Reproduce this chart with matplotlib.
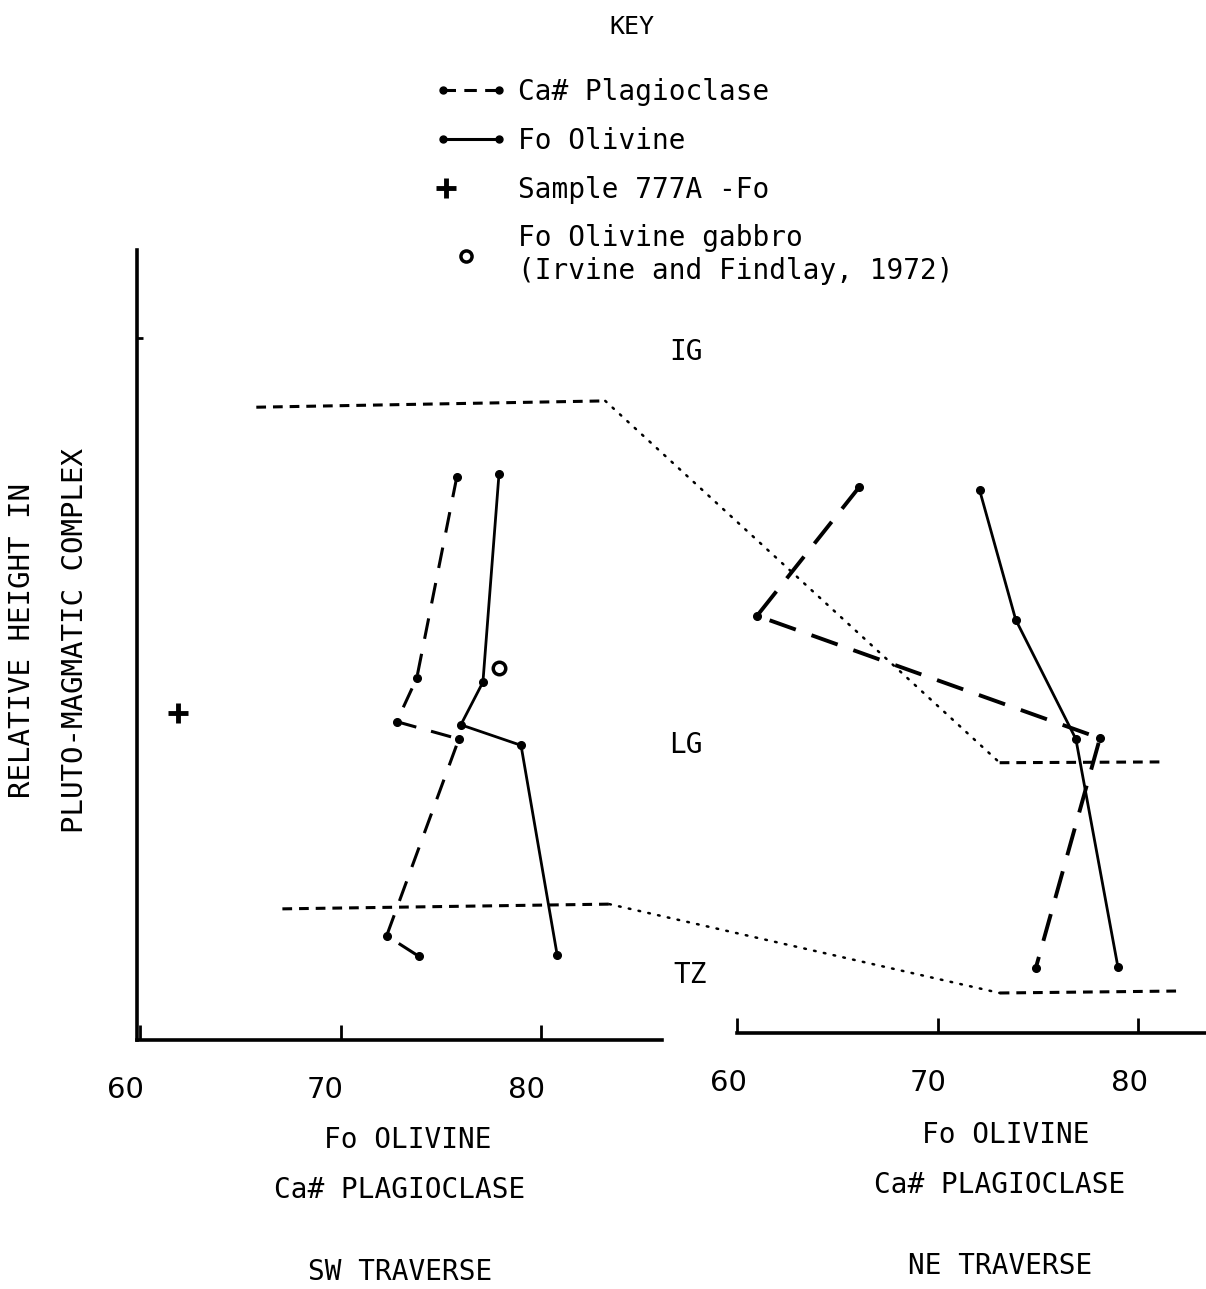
import matplotlib
matplotlib.use('Agg')
import matplotlib.pyplot as plt
from matplotlib.lines import Line2D
from matplotlib.patches import ConnectionPatch
from matplotlib.legend_handler import HandlerLine2D
import matplotlib.transforms as mtrans

plt.rcParams['font.family'] = ['DejaVu Sans Mono']
plt.rcParams['lines.scale_dashes'] = False

W, H = 1206, 1289

# ---------------- data (Fo / Ca# value, relative height) ----------------
sw_plag_x = [75.8, 73.8, 72.8, 75.9, 72.3, 73.9]
sw_plag_y = [71.3, 45.8, 40.3, 38.1, 13.2, 10.6]
sw_fo_x = [77.9, 77.1, 76.0, 79.0, 80.8]
sw_fo_y = [71.6, 45.3, 39.9, 37.3, 10.8]
sample_x = [61.9]
sample_y = [41.4]
gabbro_x = [77.9]
gabbro_y = [47.1]

ne_plag_x = [66.1, 61.0, 78.1, 74.9]
ne_plag_y = [70.0, 53.7, 38.2, 9.1]
ne_fo_x = [72.1, 73.9, 76.9, 79.0]
ne_fo_y = [69.6, 53.2, 38.1, 9.2]

# zone boundaries (IG/LG upper, LG/TZ lower)
sw_upper_x = [65.8, 83.2]
sw_upper_y = [80.1, 80.9]
ne_upper_x = [73.1, 81.3]
ne_upper_y = [35.1, 35.2]
sw_lower_x = [67.1, 83.4]
sw_lower_y = [16.6, 17.2]
ne_lower_x = [73.1, 82.0]
ne_lower_y = [5.95, 6.2]

xticks = [60, 70, 80]
xticklabels = ['60', '70', '80']
zone_labels = ['IG', 'LG', 'TZ']
legend_labels = ['Ca# Plagioclase', 'Fo Olivine', 'Sample 777A -Fo',
                 'Fo Olivine gabbro\n(Irvine and Findlay, 1972)']


class HandlerAt(HandlerLine2D):
    """Single marker placed at a fraction of the handle width."""
    def __init__(self, frac, **kw):
        super().__init__(numpoints=1, **kw)
        self.frac = frac

    def get_xdata(self, legend, xdescent, ydescent, width, height, fontsize):
        x = [-xdescent + self.frac * width]
        return x, x


# ---------------- figure ----------------
fig = plt.figure(figsize=(W / 100, H / 100), dpi=100)

ax1 = fig.add_axes([137 / W, (H - 1040) / H, (662 - 137) / W, 790 / H])
ax2 = fig.add_axes([737 / W, (H - 1040) / H, (1206 - 737) / W, 790 / H])
ax1.set_xlim(59.85, 86.03)
ax2.set_xlim(60, 83.39)
ax2.spines['bottom'].set_position(('data', 0.886))
for ax, dx in ((ax1, -15), (ax2, -9)):
    ax.set_ylim(0, 100)
    ax.patch.set_alpha(0)
    for s in ('top', 'right'):
        ax.spines[s].set_visible(False)
    ax.spines['bottom'].set_linewidth(2.6)
    ax.set_xticks(xticks)
    ax.set_xticklabels(xticklabels, fontfamily='DejaVu Sans', fontsize=21)
    ax.tick_params(axis='x', direction='in', length=11, width=2, pad=26)
    off = mtrans.ScaledTranslation(dx / 100, 0, fig.dpi_scale_trans)
    for lab in ax.get_xticklabels():
        lab.set_transform(lab.get_transform() + off)
ax1.spines['left'].set_linewidth(2.6)
ax1.set_yticks([88.9])
ax1.set_yticklabels([])
ax1.tick_params(axis='y', direction='in', length=4, width=2)
ax2.spines['left'].set_visible(False)
ax2.set_yticks([])

# SW traverse
ax1.plot(sw_plag_x, sw_plag_y, color='k', lw=2.2, dashes=(15, 11),
         marker='o', ms=5.5, clip_on=False)
ax1.plot(sw_fo_x, sw_fo_y, color='k', lw=2.0, marker='o', ms=5.5, clip_on=False)
ax1.plot(sample_x, sample_y, ls='none', marker='+', ms=15, mew=3.5, color='k')
ax1.plot(gabbro_x, gabbro_y, ls='none', marker='o', ms=9, mfc='none', mew=2.5, color='k')

# NE traverse
ax2.plot(ne_plag_x, ne_plag_y, color='k', lw=2.8, dashes=(20, 12),
         marker='o', ms=5.5, clip_on=False)
ax2.plot(ne_fo_x, ne_fo_y, color='k', lw=2.0, marker='o', ms=5.5, clip_on=False)

# zone boundaries
bd = dict(color='k', lw=2.2, dashes=(7, 5), clip_on=False)
ax1.plot(sw_upper_x, sw_upper_y, **bd)
ax1.plot(sw_lower_x, sw_lower_y, **bd)
ax2.plot(ne_upper_x, ne_upper_y, **bd)
ax2.plot(ne_lower_x, ne_lower_y, **bd)
for (xa, ya, xb, yb) in ((sw_upper_x[1], sw_upper_y[1], ne_upper_x[0], ne_upper_y[0]),
                         (sw_lower_x[1], sw_lower_y[1], ne_lower_x[0], ne_lower_y[0])):
    con = ConnectionPatch(xyA=(xa, ya), coordsA=ax1.transData,
                          xyB=(xb, yb), coordsB=ax2.transData,
                          color='k', lw=1.8, linestyle=(0, (1.2, 6)),
                          capstyle='round')
    fig.add_artist(con)

# zone labels
for lab, (px, py) in zip(zone_labels, [(686, 352), (686, 745), (690, 975)]):
    fig.text(px / W, 1 - py / H, lab, ha='center', va='center', fontsize=20)

# axis labels
fig.text(22 / W, 1 - 640 / H, 'RELATIVE HEIGHT IN', rotation=90,
         ha='center', va='center', fontsize=21)
fig.text(75 / W, 1 - 640 / H, 'PLUTO-MAGMATIC COMPLEX', rotation=90,
         ha='center', va='center', fontsize=21)
for txt, (px, py) in [('Fo OLIVINE', (408, 1140)), ('Ca# PLAGIOCLASE', (400, 1190)),
                      ('SW TRAVERSE', (400, 1272)),
                      ('Fo OLIVINE', (1006, 1135)), ('Ca# PLAGIOCLASE', (1000, 1185)),
                      ('NE TRAVERSE', (1000, 1266))]:
    fig.text(px / W, 1 - py / H, txt, ha='center', va='center', fontsize=20)

# key
fig.text(632 / W, 1 - 27 / H, 'KEY', ha='center', va='center', fontsize=18)
h1 = Line2D([], [], color='k', lw=2.2, dashes=(9, 6), marker='o', ms=5)
h2 = Line2D([], [], color='k', lw=2.2, marker='o', ms=5)
h3 = Line2D([], [], ls='none', marker='+', ms=14, mew=3.5, color='k')
h4 = Line2D([], [], ls='none', marker='o', ms=8, mfc='none', mew=2.5, color='k')
fig.legend([h1, h2, h3, h4], legend_labels, loc='upper left',
           bbox_to_anchor=(435 / W, 1 - 78 / H), frameon=False, numpoints=2,
           handler_map={h3: HandlerAt(0.15), h4: HandlerAt(0.43)},
           handlelength=2.6, handletextpad=0.4, labelspacing=0.75, borderpad=0,
           borderaxespad=0, prop={'family': 'DejaVu Sans Mono', 'size': 20})

fig.savefig('out.png', dpi=100)
